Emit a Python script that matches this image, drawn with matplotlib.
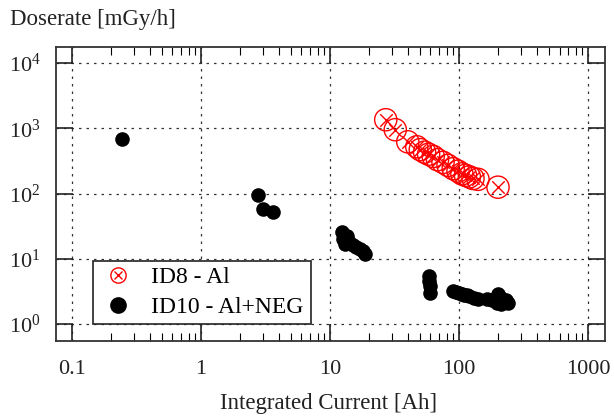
import matplotlib
matplotlib.use("Agg")
import matplotlib.pyplot as plt
from matplotlib.ticker import FixedLocator, NullFormatter, FixedFormatter
from matplotlib.lines import Line2D

plt.rcParams['font.family'] = ['Liberation Serif', 'DejaVu Serif']
plt.rcParams['mathtext.fontset'] = 'custom'
plt.rcParams['mathtext.rm'] = 'Liberation Serif'
plt.rcParams['mathtext.it'] = 'Liberation Serif:italic'

# ID8 - Al (red circled crosses)
id8_x = [27, 32, 40, 47, 50, 54, 58, 63, 68, 75, 82, 90, 98, 105, 112, 120, 128, 140, 200]
id8_y = [1350, 950, 620, 520, 470, 430, 400, 370, 330, 300, 270, 240, 220, 200, 190, 180, 170, 165, 125]

# ID10 - Al+NEG (black dots)
id10_x = [0.245, 2.75, 3.0, 3.6,
          12.3, 12.5, 13.0, 13.5, 14.0, 15.0, 16.0, 17.0, 18.0, 18.5,
          58, 58, 59, 59,
          90, 95, 100, 105, 110, 115, 120, 130, 140, 165, 180, 195, 200, 210, 210, 230, 240]
id10_y = [690, 95, 58, 52,
          26, 20, 17, 22, 18, 16, 15, 14, 13, 12,
          5.5, 4.5, 3.8, 3.0,
          3.2, 3.1, 3.0, 2.9, 2.8, 2.8, 2.7, 2.5, 2.4, 2.4, 2.3, 2.1, 2.9, 2.5, 2.0, 2.3, 2.1]

x_ticks = [0.1, 1, 10, 100, 1000]
x_ticklabels = ["0.1", "1", "10", "100", "1000"]
y_ticks = [1, 10, 100, 1000, 10000]

fig = plt.figure(figsize=(6.14, 4.2), dpi=100)
ax = fig.add_axes([56/614, 1-341/420, (605-56)/614, (341-47)/420])

ax.set_xscale('log')
ax.set_yscale('log')

ax.scatter(id10_x, id10_y, s=10.5**2, c='black', marker='o', linewidths=0, zorder=3)
ax.scatter(id8_x, id8_y, s=16**2, facecolors='none', edgecolors='red', marker='o', linewidths=1.0, zorder=4)
ax.scatter(id8_x, id8_y, s=9**2, c='red', marker='x', linewidths=1.0, zorder=4)

ax.set_xlim(0.0752, 1350)
ax.set_ylim(10**-0.26, 10**4.245)

minor_x = [m * 10.0**e for e in range(-1, 3) for m in range(2, 10)]
ax.xaxis.set_major_locator(FixedLocator(x_ticks))
ax.xaxis.set_major_formatter(FixedFormatter(x_ticklabels))
ax.xaxis.set_minor_locator(FixedLocator(minor_x))
ax.xaxis.set_minor_formatter(NullFormatter())
ax.yaxis.set_major_locator(FixedLocator(y_ticks))
ax.yaxis.set_major_formatter(FixedFormatter([r"$10^{%d}$" % i for i in range(5)]))
ax.yaxis.set_minor_locator(FixedLocator([]))

ax.tick_params(which='major', direction='in', length=12, width=1.2, top=True, right=True, labelsize=16, colors='#222222')
ax.tick_params(which='minor', direction='in', length=6, width=0.8, top=True, right=True)
ax.tick_params(axis='x', which='major', pad=14)
ax.tick_params(axis='y', which='major', pad=11)

ax.grid(True, which='major', linestyle=(0, (2, 4)), color='#333333', linewidth=0.9)
for s in ax.spines.values():
    s.set_linewidth(1.3)
    s.set_color('#333333')

fig.text(10/614, 1-20/420, "Doserate [mGy/h]", fontsize=16.5, ha='left', va='center', color='#222222')
fig.text(329/614, 1-404/420, "Integrated Current [Ah]", fontsize=16.5, ha='center', va='center', color='#222222')

l1o = Line2D([], [], marker='o', markersize=11, markerfacecolor='none', markeredgecolor='red', linestyle='none', markeredgewidth=1.0)
l1x = Line2D([], [], marker='x', markersize=6, color='red', linestyle='none', markeredgewidth=1.0)
l2 = Line2D([], [], marker='o', markersize=11, color='black', linestyle='none')
leg = ax.legend([(l1o, l1x), l2], ["ID8 - Al", "ID10 - Al+NEG"],
                loc='lower left', bbox_to_anchor=(93/614, 1-324/420, (311-93)/614, (324-257)/420),
                bbox_transform=fig.transFigure, mode='expand', fontsize=17, frameon=True,
                fancybox=False, edgecolor='#222222', framealpha=1, borderaxespad=0,
                handletextpad=0.6, labelspacing=0.35, borderpad=0.25, handlelength=1.6)
leg.get_frame().set_linewidth(1.2)
leg.set_zorder(5)

fig.savefig("out.png", dpi=100)
